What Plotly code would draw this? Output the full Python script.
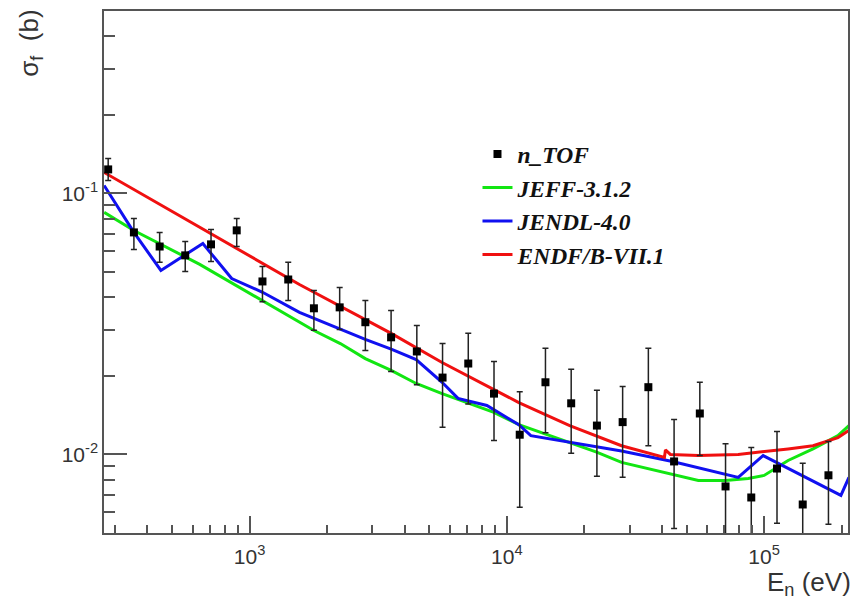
import plotly.graph_objects as go

# n_TOF measured fission cross section (energy in eV, sigma in barn)
ntof_energy = [282, 355, 447, 562, 708, 891, 1122, 1413, 1778, 2239, 2818, 3548,
               4467, 5623, 7079, 8913, 11220, 14125, 17783, 22387, 28184, 35481,
               44668, 56234, 70795, 89125, 112202, 141254, 177828]
ntof_sigma = [0.1236, 0.0709, 0.0626, 0.0579, 0.0638, 0.0722, 0.0460, 0.0468,
              0.0363, 0.0366, 0.0321, 0.0281, 0.0248, 0.0197, 0.0223, 0.0171,
              0.0119, 0.0189, 0.0157, 0.0129, 0.0133, 0.0181, 0.0094, 0.01435,
              0.00754, 0.00684, 0.00883, 0.00643, 0.00832]
ntof_upper = [0.136, 0.0802, 0.0709, 0.0655, 0.0728, 0.0802, 0.0525, 0.0545,
              0.0425, 0.0436, 0.0389, 0.0356, 0.0312, 0.0266, 0.0291, 0.0227,
              0.0174, 0.0255, 0.0212, 0.0176, 0.0182, 0.0255, 0.0136, 0.0189,
              0.0110, 0.01064, 0.01225, 0.00925, 0.0112]
ntof_lower = [0.112, 0.0610, 0.0545, 0.0502, 0.0549, 0.0626, 0.0385, 0.0389,
              0.0299, 0.0301, 0.0250, 0.0208, 0.0185, 0.0127, 0.0156, 0.0113,
              0.00627, 0.0121, 0.0101, 0.00824, 0.00817, 0.0108, 0.0052, 0.0099,
              0.0040, 0.0030, 0.00545, 0.0030, 0.0054]

# Evaluated libraries
jeff_energy = [272, 355, 640, 1307, 1771, 2253, 2816, 3551, 4440, 5600, 7062, 8904,
               11130, 14040, 17550, 22330, 27910, 35200, 44000, 55490, 70620,
               86700, 100000, 123900, 154900, 193600, 213600]
jeff_sigma = [0.0846, 0.0721, 0.0535, 0.0356, 0.0299, 0.0266, 0.0233, 0.0210,
              0.0187, 0.0171, 0.0157, 0.0145, 0.0130, 0.0120, 0.0111, 0.0102,
              0.00932, 0.00884, 0.00838, 0.00795, 0.00795, 0.00809, 0.00831,
              0.00948, 0.0105, 0.0118, 0.0129]

jendl_energy = [272, 355, 452, 658, 852, 1123, 1562, 2253, 2816, 3551, 4440, 5600,
                6458, 8364, 11130, 12390, 17550, 27910, 44000, 79300, 99110,
                198800, 213600]
jendl_sigma = [0.1073, 0.0709, 0.0507, 0.0643, 0.0472, 0.0418, 0.0350, 0.0301,
               0.0276, 0.0253, 0.0231, 0.0189, 0.0164, 0.0154, 0.0130, 0.0118,
               0.0111, 0.0103, 0.00940, 0.00816, 0.0099, 0.00697, 0.00816]

endf_energy = [272, 640, 1562, 3551, 5600, 11130, 17550, 27910, 40970, 41340,
               43220, 55490, 79300, 123900, 154900, 193600, 213600]
endf_sigma = [0.1203, 0.0741, 0.0448, 0.0291, 0.0225, 0.0158, 0.0129, 0.0108,
              0.00974, 0.0104, 0.0100, 0.0099, 0.0100, 0.0105, 0.0108, 0.0116,
              0.01236]

x_major = [1e3, 1e4, 1e5]
x_major_text = ["10<sup>3</sup>", "10<sup>4</sup>", "10<sup>5</sup>"]
x_minor = [300, 400, 500, 600, 700, 800, 900, 2000, 3000, 4000, 5000, 6000, 7000,
           8000, 9000, 20000, 30000, 40000, 50000, 60000, 70000, 80000, 90000, 200000]
y_major = [0.01, 0.1]
y_major_text = ["10<sup>-2</sup>", "10<sup>-1</sup>"]
y_minor = [0.006, 0.007, 0.008, 0.009, 0.02, 0.03, 0.04, 0.05, 0.06, 0.07, 0.08,
           0.09, 0.2, 0.3, 0.4]

frame_col = "#555555"
sans = "Liberation Sans, Arial, sans-serif"
label_font = dict(family=sans, size=21, color="#333333")

fig = go.Figure()

for name, ex, sy, col, rank in [
    ("JEFF-3.1.2", jeff_energy, jeff_sigma, "#12e612", 2),
    ("JENDL-4.0", jendl_energy, jendl_sigma, "#1010f0", 3),
    ("ENDF/B-VII.1", endf_energy, endf_sigma, "#f01010", 4),
]:
    fig.add_trace(go.Scatter(
        x=ex, y=sy, mode="lines", name=name, legendgroup=name, legendrank=rank,
        line=dict(color=col, width=3),
    ))

fig.add_trace(go.Scatter(
    x=ntof_energy, y=ntof_sigma, mode="markers", name="n_TOF",
    legendgroup="n_TOF", legendrank=1,
    marker=dict(symbol="square", size=8, color="black"),
    error_y=dict(
        type="data", symmetric=False,
        array=[u - s for u, s in zip(ntof_upper, ntof_sigma)],
        arrayminus=[s - l for s, l in zip(ntof_sigma, ntof_lower)],
        color="#222222", thickness=1.5, width=3,
    ),
))

fig.update_layout(
    width=852, height=601,
    margin=dict(l=104, r=2, t=11, b=68),
    paper_bgcolor="white", plot_bgcolor="white",
    showlegend=True,
    legend=dict(
        x=0.502, y=0.768, xanchor="left", yanchor="top",
        bgcolor="rgba(0,0,0,0)", tracegroupgap=0,
        font=dict(family="Liberation Serif, Times New Roman, serif", size=23.5,
                  color="#111111", weight="bold", style="italic"),
    ),
    xaxis=dict(
        type="log", range=[2.434, 5.326],
        tickmode="array", tickvals=x_major, ticktext=x_major_text,
        ticks="inside", ticklen=17, tickwidth=1.5, tickcolor=frame_col,
        minor=dict(tickmode="array", tickvals=x_minor, ticks="inside",
                   ticklen=8, tickwidth=1.5, tickcolor=frame_col, showgrid=False),
        showgrid=False, zeroline=False,
        showline=True, mirror=True, linecolor=frame_col, linewidth=1.5,
        tickfont=label_font, ticklabelstandoff=4,
    ),
    yaxis=dict(
        type="log", range=[-2.30103, -0.30103],
        tickmode="array", tickvals=y_major, ticktext=y_major_text,
        ticks="inside", ticklen=23, tickwidth=1.5, tickcolor=frame_col,
        minor=dict(tickmode="array", tickvals=y_minor, ticks="inside",
                   ticklen=11, tickwidth=1.5, tickcolor=frame_col, showgrid=False),
        showgrid=False, zeroline=False,
        showline=True, mirror=True, linecolor=frame_col, linewidth=1.5,
        tickfont=label_font,
    ),
    annotations=[
        dict(text="σ<sub>f</sub>&nbsp; (b)", textangle=-90, xref="paper", yref="paper",
             x=-0.099, y=1.006, xanchor="center", yanchor="top", showarrow=False,
             font=dict(family=sans, size=26, color="#333333")),
        dict(text="E<sub>n</sub> (eV)", xref="paper", yref="paper",
             x=1.0, y=-0.096, xanchor="right", yanchor="middle", showarrow=False,
             xshift=5,
             font=dict(family=sans, size=26, color="#333333")),
    ],
)

fig.write_html("out.html")
